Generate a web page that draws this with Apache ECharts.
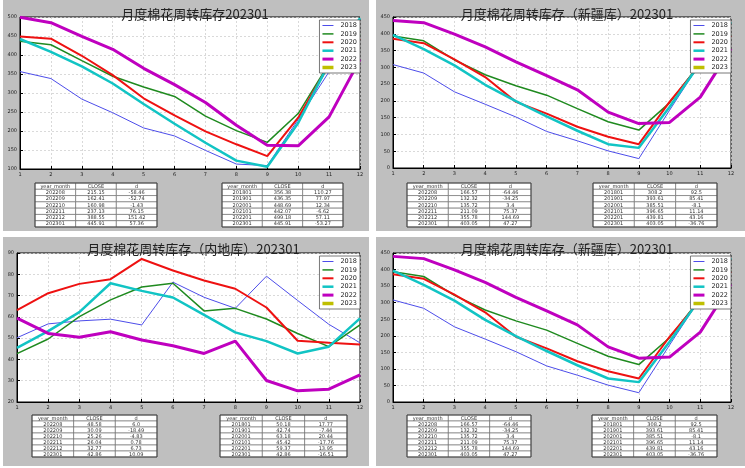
<!DOCTYPE html>
<html>
<head>
<meta charset="utf-8">
<script src="https://cdn.jsdelivr.net/npm/echarts@6/dist/echarts.min.js"></script>
<style>
  html, body { margin: 0; padding: 0; background: #fff; }
  #main { width: 745px; height: 468px; }
</style>
</head>
<body>
<div id="main"></div>
<script>
var months = ['1', '2', '3', '4', '5', '6', '7', '8', '9', '10', '11', '12'];
var years = ['2018', '2019', '2020', '2021', '2022', '2023'];

// 总库存 2018..2023
var totalValues = [
    [356.38, 338, 284, 248, 208, 187, 149, 113, 109, 230, 356, 432],
    [436.35, 427, 385, 344, 316, 291, 239, 201, 170, 246, 378, 455],
    [448.69, 443, 398, 347, 286, 241, 199, 165, 134, 235, 374, 443],
    [442.07, 408, 370, 325, 271, 219, 169, 122, 106, 221, 378, 497],
    [499.18, 485, 449, 415, 365, 322, 275, 215.15, 162.41, 160.98, 237.13, 388.55],
    [445.91, null, null, null, null, null, null, null, null, null, null, null]
];
// 新疆库
var xinjiangValues = [
    [308.2, 283, 227, 190, 152, 109, 81, 51, 28, 172, 313, 384],
    [393.61, 379, 322, 278, 245, 217, 177, 138, 113, 194, 313, 399],
    [385.51, 372, 324, 271, 197, 162, 123, 93, 71, 197, 308, 394],
    [396.65, 354, 306, 248, 199, 154, 111, 71, 60, 182, 313, 435],
    [439.81, 433, 399, 361, 316, 275, 233, 166.57, 132.32, 135.72, 211.09, 355.78],
    [403.05, null, null, null, null, null, null, null, null, null, null, null]
];
// 内地库
var neidiValues = [
    [50.18, 56.7, 58.1, 58.9, 56.2, 76.3, 69.2, 64, 79.1, 67.7, 56.5, 47.8],
    [42.74, 49.6, 60.1, 68, 74, 75.8, 62.8, 64, 59, 52.2, 46, 56.2],
    [63.18, 71.1, 75.5, 77.7, 87.2, 81.8, 77.1, 73.2, 64.4, 48.8, 47.8, 47],
    [45.42, 53.3, 62.2, 75.8, 72.2, 69.1, 60.9, 52.7, 48.6, 42.8, 46, 59.3],
    [59.37, 52.2, 50.4, 53, 49.1, 46.4, 42.8, 48.58, 30.09, 25.26, 26.04, 32.77],
    [42.86, null, null, null, null, null, null, null, null, null, null, null]
];

var tableHeader = ['year_month', 'CLOSE', 'd'];
var totalRecent = [['202208', '215.15', '-58.46'], ['202209', '162.41', '-52.74'], ['202210', '160.98', '-1.43'],
    ['202211', '237.13', '76.15'], ['202212', '388.55', '151.42'], ['202301', '445.91', '57.36']];
var totalJan = [['201801', '356.38', '110.27'], ['201901', '436.35', '77.97'], ['202001', '448.69', '12.34'],
    ['202101', '442.07', '-6.62'], ['202201', '499.18', '57.11'], ['202301', '445.91', '-53.27']];
var xinjiangRecent = [['202208', '166.57', '-64.46'], ['202209', '132.32', '-34.25'], ['202210', '135.72', '3.4'],
    ['202211', '211.09', '75.37'], ['202212', '355.78', '144.69'], ['202301', '403.05', '47.27']];
var xinjiangJan = [['201801', '308.2', '92.5'], ['201901', '393.61', '85.41'], ['202001', '385.51', '-8.1'],
    ['202101', '396.65', '11.14'], ['202201', '439.81', '43.16'], ['202301', '403.05', '-36.76']];
var neidiRecent = [['202208', '48.58', '6.0'], ['202209', '30.09', '-18.49'], ['202210', '25.26', '-4.83'],
    ['202211', '26.04', '0.78'], ['202212', '32.77', '6.73'], ['202301', '42.86', '10.09']];
var neidiJan = [['201801', '50.18', '17.77'], ['201901', '42.74', '-7.44'], ['202001', '63.18', '20.44'],
    ['202101', '45.42', '-17.76'], ['202201', '59.37', '13.95'], ['202301', '42.86', '-16.51']];

var colors = ['#4d4dea', '#1f8a1f', '#ee1111', '#11c4c4', '#bf00bf', '#bfbf00'];
var widths = [1, 1.5, 2, 2.5, 3, 3.5];

var panels = [
    { title: '月度棉花周转库存202301', values: totalValues, yMin: 100, yMax: 500,
      grid: { left: 20, top: 17, width: 340, height: 152 },
      tables: [[totalRecent, 35, 183, 122, 44], [totalJan, 222, 183, 121, 44]] },
    { title: '月度棉花周转库存（新疆库）202301', values: xinjiangValues, yMin: 0, yMax: 450,
      grid: { left: 393, top: 17, width: 338, height: 151 },
      tables: [[xinjiangRecent, 407, 183, 124, 44], [xinjiangJan, 593, 183, 124, 44]] },
    { title: '月度棉花周转库存（内地库）202301', values: neidiValues, yMin: 20, yMax: 90,
      grid: { left: 17, top: 253, width: 343, height: 149 },
      tables: [[neidiRecent, 32, 415, 125, 42], [neidiJan, 220, 415, 127, 42]] },
    { title: '月度棉花周转库存（新疆库）202301', values: xinjiangValues, yMin: 0, yMax: 450,
      grid: { left: 393, top: 253, width: 338, height: 149 },
      tables: [[xinjiangRecent, 407, 415, 124, 42], [xinjiangJan, 592, 415, 125, 42]] }
];

var chart = echarts.init(document.getElementById('main'), null, { renderer: 'canvas' });

var grids = [], xAxes = [], yAxes = [], titles = [], legends = [], series = [], graphics = [];

// 灰色底 + 白色分隔
graphics.push({ type: 'rect', shape: { x: 0, y: 0, width: 3, height: 468 }, style: { fill: '#fff' }, silent: true });
graphics.push({ type: 'rect', shape: { x: 369, y: 0, width: 7, height: 468 }, style: { fill: '#fff' }, silent: true });
graphics.push({ type: 'rect', shape: { x: 0, y: 231, width: 745, height: 6 }, style: { fill: '#fff' }, silent: true });
graphics.push({ type: 'rect', shape: { x: 0, y: 466, width: 745, height: 2 }, style: { fill: '#fff' }, silent: true });

function addTable(rows, x, y, w, h) {
    var all = [tableHeader].concat(rows);
    var rh = h / all.length, cw = w / 3;
    all.forEach(function (row, r) {
        row.forEach(function (cell, c) {
            graphics.push({
                type: 'rect', silent: true,
                shape: { x: x + c * cw, y: y + r * rh, width: cw, height: rh },
                style: { fill: '#fff', stroke: '#666', lineWidth: 0.6 }
            });
            graphics.push({
                type: 'text', silent: true,
                x: x + c * cw + cw / 2, y: y + r * rh + rh / 2 + 0.3,
                style: { text: cell, fill: '#333', fontSize: 5, fontFamily: 'DejaVu Sans',
                         align: 'center', verticalAlign: 'middle' }
            });
        });
    });
    graphics.push({ type: 'rect', silent: true, shape: { x: x, y: y, width: w, height: h },
        style: { fill: 'none', stroke: '#444', lineWidth: 1 } });
}

// 图例：线段粗细随年份变化
var legendData = years.map(function (y, k) {
    return { name: y, icon: 'path://M0,0h11v' + widths[k] + 'h-11z' };
});

panels.forEach(function (p, i) {
    grids.push({
        left: p.grid.left, top: p.grid.top, width: p.grid.width, height: p.grid.height,
        show: true, backgroundColor: '#fff', borderColor: '#000', borderWidth: 1
    });
    xAxes.push({
        type: 'category', gridIndex: i, data: months, boundaryGap: false,
        axisLine: { lineStyle: { color: '#000', width: 1 } },
        axisTick: { inside: true, length: 3, lineStyle: { color: '#000' } },
        axisLabel: { fontSize: 5, color: '#222', margin: 3, fontFamily: 'DejaVu Sans', interval: 0 },
        splitLine: { show: true, lineStyle: { color: '#d0d0d0', type: [2, 2], width: 0.8 } }
    });
    yAxes.push({
        type: 'value', gridIndex: i, min: p.yMin, max: p.yMax, interval: p.yMin === 20 ? 10 : 50,
        axisLine: { show: true, lineStyle: { color: '#000', width: 1 } },
        axisTick: { show: true, inside: true, length: 3, lineStyle: { color: '#000' } },
        axisLabel: { fontSize: 5, color: '#222', margin: 3, fontFamily: 'DejaVu Sans' },
        splitLine: { show: true, lineStyle: { color: '#d0d0d0', type: [2, 2], width: 0.8 } }
    });
    titles.push({
        text: p.title,
        left: p.grid.left + p.grid.width / 2, textAlign: 'center', top: i >= 2 ? 238 : 3,
        textStyle: { fontSize: 13, fontWeight: 'normal', color: '#222', fontFamily: 'Noto Sans CJK SC' }
    });
    legends.push({
        data: legendData, orient: 'vertical',
        right: 745 - (p.grid.left + p.grid.width), top: p.grid.top + 3,
        backgroundColor: '#fff', borderColor: '#555', borderWidth: 0.8,
        padding: [2, 3, 2, 3], itemWidth: 11, itemHeight: 6, itemGap: 1.4,
        textStyle: { fontSize: 6.5, color: '#222', fontFamily: 'DejaVu Sans', lineHeight: 6, padding: [0, 0, 0, 2] },
        selectedMode: false
    });
    p.values.forEach(function (vals, k) {
        series.push({
            name: years[k], type: 'line', xAxisIndex: i, yAxisIndex: i,
            data: vals, symbol: 'none', showSymbol: false, animation: false,
            lineStyle: { color: colors[k], width: widths[k] },
            itemStyle: { color: colors[k] }
        });
    });
    p.tables.forEach(function (t) { addTable(t[0], t[1], t[2], t[3], t[4]); });
});

var option = {
    backgroundColor: '#bfbfbf',
    animation: false,
    title: titles,
    legend: legends,
    grid: grids,
    xAxis: xAxes,
    yAxis: yAxes,
    series: series,
    graphic: graphics
};

chart.setOption(option);
</script>
</body>
</html>
